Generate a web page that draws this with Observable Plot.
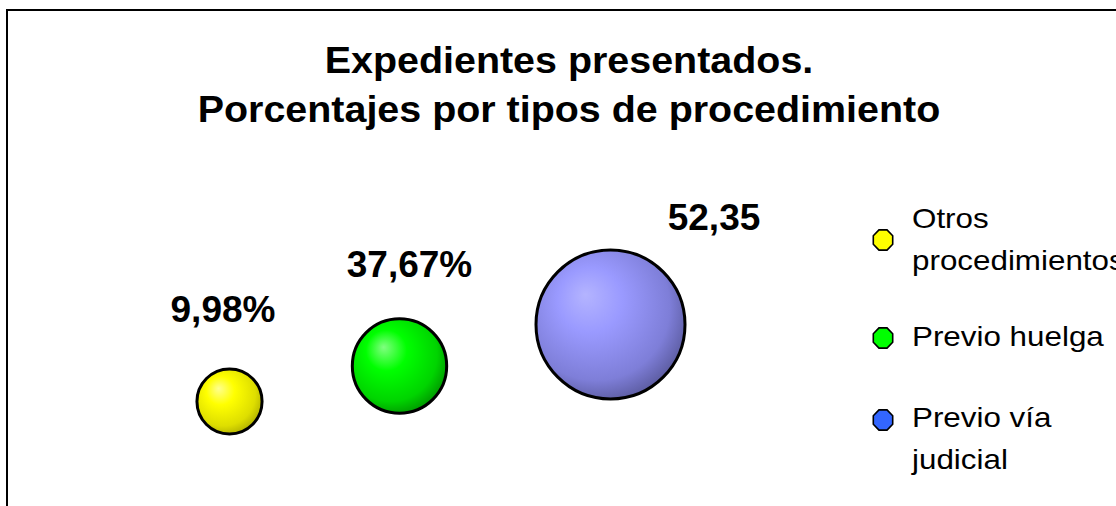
<!DOCTYPE html>
<html>
<head>
<meta charset="utf-8">
<script src="https://cdn.jsdelivr.net/npm/d3@7"></script>
<script src="https://cdn.jsdelivr.net/npm/@observablehq/plot@0.6"></script>
<style>
  html, body { margin: 0; padding: 0; background: #fff; overflow: hidden; }
  #wrap { position: relative; width: 1116px; height: 506px; font-family: "Liberation Sans", Arial, sans-serif; }
  #frame { position: absolute; left: 6px; top: 9px; width: 1300px; height: 700px; border: 2px solid #000; box-sizing: border-box; }
  #chart { position: absolute; left: 0; top: 0; }
  .title { position: absolute; left: 11px; width: 1116px; text-align: center; font-weight: bold; font-size: 36px; color: #000; white-space: nowrap; transform: scaleX(1.095); transform-origin: 558px 0; line-height: 1; }
  .leg { position: absolute; font-size: 28px; color: #000; white-space: nowrap; transform: scaleX(1.12); transform-origin: 0 0; line-height: 1; }
  .mk { position: absolute; }
</style>
</head>
<body>
<div id="wrap">
  <div id="frame"></div>
  <div id="chart"></div>
</div>
<script>
// ---- data ----
const categories = ["Otros procedimientos", "Previo huelga", "Previo vía judicial"];
const labels = ["9,98%", "37,67%", "52,35"];
const bubbleX = [2.29, 3.99, 6.10];
const bubbleY = [1.05, 1.405, 1.82];
const bubbleSize = [10, 21, 52.35];
const labelX = [2.225, 4.09, 7.135];
const labelY = [1.85, 2.30, 2.77];
const legendLines = [["Otros", "procedimientos"], ["Previo huelga"], ["Previo vía", "judicial"]];
const legendColors = ["#ffff00", "#00ff00", "#3366ff"];
const titleLines = ["Expedientes presentados.", "Porcentajes por tipos de procedimiento"];

const rows = categories.map((c, i) => ({
  cat: c, x: bubbleX[i], y: bubbleY[i], size: bubbleSize[i],
  lx: labelX[i], ly: labelY[i], label: labels[i]
}));

const plot = Plot.plot({
  width: 1116,
  height: 506,
  marginLeft: 0,
  marginRight: 116,
  marginTop: 6,
  marginBottom: 0,
  x: {domain: [0, 10], axis: null},
  y: {domain: [0, 5], axis: null},
  r: {domain: [0, 52.35], range: [0, 74.5]},
  color: {domain: categories, range: ["url(#gY)", "url(#gG)", "url(#gB)"]},
  style: {background: "transparent", overflow: "visible"},
  marks: [
    Plot.dot(rows, {x: "x", y: "y", r: "size", fill: "cat", stroke: "#000", strokeWidth: 3}),
    Plot.text(rows, {x: "lx", y: "ly", text: "label", fontSize: 37, fontWeight: "bold",
      fill: "#000", lineAnchor: "bottom", textAnchor: "middle",
      fontFamily: "Liberation Sans, Arial, sans-serif"})
  ]
});

// gradients
const ns = "http://www.w3.org/2000/svg";
const defs = document.createElementNS(ns, "defs");
const grads = {
  gY: ["#ffff90", "#ffff00", "#dede00", "#b4b400"],
  gG: ["#80ff80", "#00ff00", "#00d400", "#009c00"],
  gB: ["#b4b4ff", "#9a9aff", "#7e7ed8", "#5e5ea4"]
};
for (const [id, cs] of Object.entries(grads)) {
  const g = document.createElementNS(ns, "radialGradient");
  g.setAttribute("id", id);
  g.setAttribute("cx", "0.42"); g.setAttribute("cy", "0.4");
  g.setAttribute("r", "0.62");
  g.setAttribute("fx", "0.33"); g.setAttribute("fy", "0.3");
  [[0, cs[0]], [0.35, cs[1]], [0.8, cs[2]], [1, cs[3]]].forEach(([o, c]) => {
    const s = document.createElementNS(ns, "stop");
    s.setAttribute("offset", o); s.setAttribute("stop-color", c);
    g.appendChild(s);
  });
  defs.appendChild(g);
}
plot.insertBefore(defs, plot.firstChild);
document.getElementById("chart").appendChild(plot);

// title
const wrap = document.getElementById("wrap");
const titleTops = [43, 92];
titleLines.forEach((t, i) => {
  const d = document.createElement("div");
  d.className = "title";
  d.style.top = titleTops[i] + "px";
  d.textContent = t;
  wrap.appendChild(d);
});

// legend
const legTop = [[205, 247], [323], [404, 446]];
const mkY = [240, 338, 420];
legendLines.forEach((lines, i) => {
  const m = document.createElementNS(ns, "svg");
  m.setAttribute("width", 26); m.setAttribute("height", 26);
  m.setAttribute("class", "mk");
  m.style.left = (883 - 13) + "px";
  m.style.top = (mkY[i] - 13) + "px";
  const p = document.createElementNS(ns, "polygon");
  const pts = [];
  for (let k = 0; k < 8; k++) {
    const a = Math.PI / 8 + k * Math.PI / 4;
    pts.push((13 + 10.5 * Math.cos(a)).toFixed(2) + "," + (13 + 11 * Math.sin(a)).toFixed(2));
  }
  p.setAttribute("points", pts.join(" "));
  p.setAttribute("fill", legendColors[i]);
  p.setAttribute("stroke", "#000");
  p.setAttribute("stroke-width", "1.6");
  m.appendChild(p);
  wrap.appendChild(m);
  lines.forEach((ln, j) => {
    const d = document.createElement("div");
    d.className = "leg";
    d.style.left = "912px";
    d.style.top = legTop[i][j] + "px";
    d.textContent = ln;
    wrap.appendChild(d);
  });
});
</script>
</body>
</html>
